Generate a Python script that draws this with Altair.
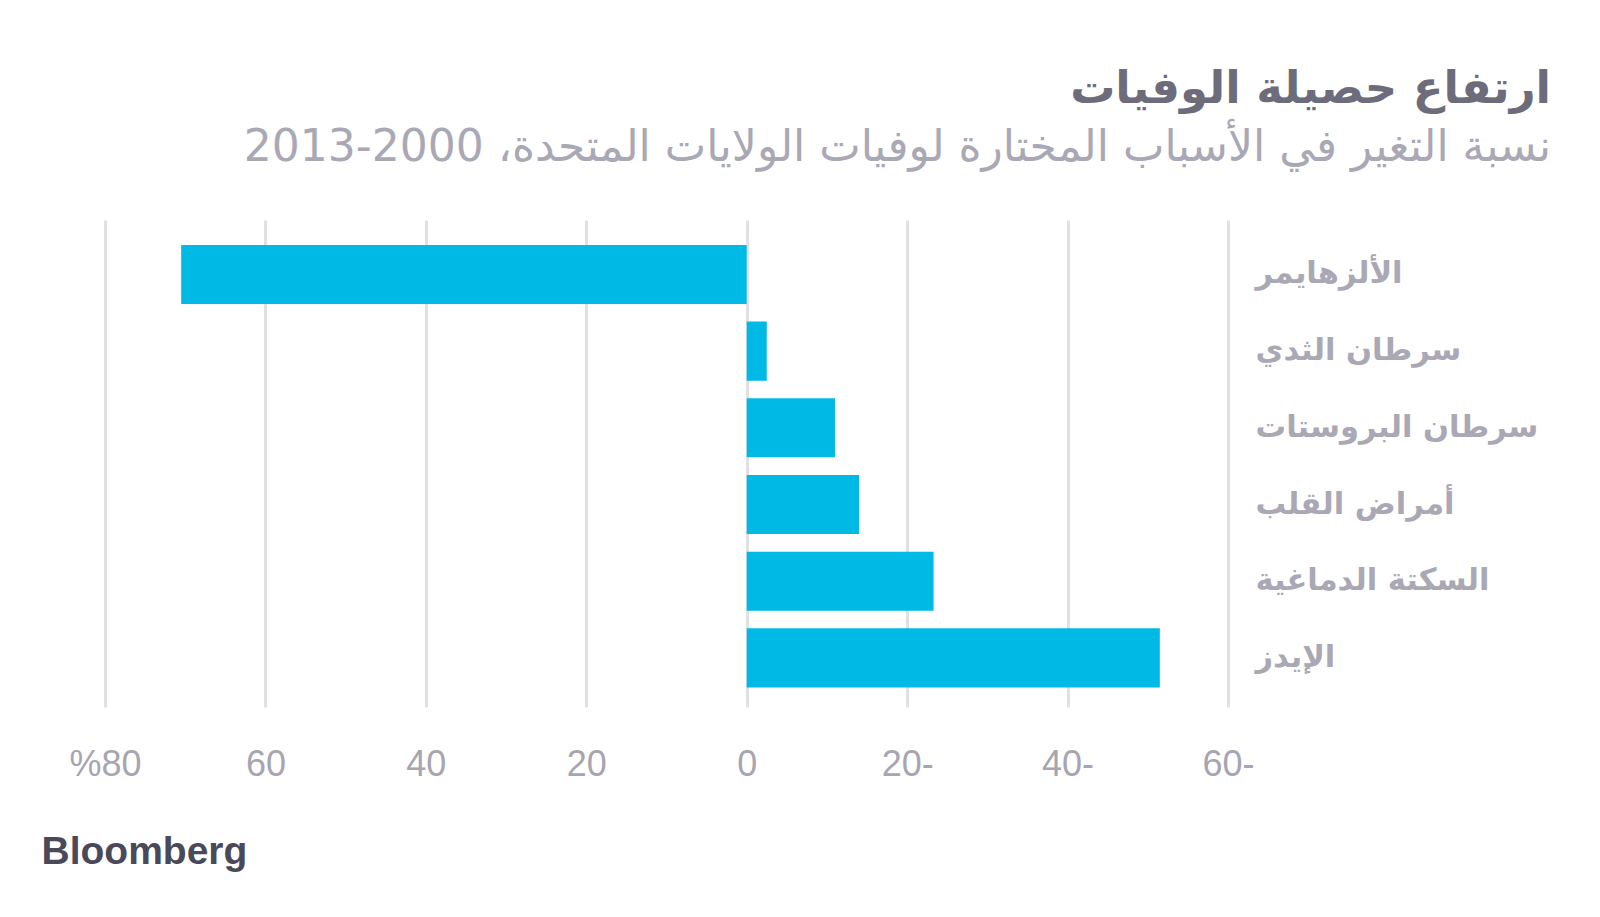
import altair as alt
import pandas as pd

causes = ["الألزهايمر", "سرطان الثدي", "سرطان البروستات", "أمراض القلب", "السكتة الدماغية", "الإيدز"]
changes = [70.5, -2.5, -11, -14, -23.3, -51.5]
tick_values = [80, 60, 40, 20, 0, -20, -40, -60]
tick_labels = ["%80", "60", "40", "20", "0", "20-", "40-", "60-"]

title_text = "ارتفاع حصيلة الوفيات"
subtitle_text = "نسبة التغير في الأسباب المختارة لوفيات الولايات المتحدة، 2000-2013"
source_text = "Bloomberg"

df = pd.DataFrame({"cause": causes, "change": changes})

label_expr = "".join(f"datum.value == {v} ? '{l}' : " for v, l in zip(tick_values, tick_labels)) + "''"

chart = alt.Chart(df).mark_bar(color="#00b9e4").encode(
    x=alt.X(
        "change:Q",
        scale=alt.Scale(domain=[-60, 80], reverse=True, nice=False, zero=True),
        axis=alt.Axis(
            values=tick_values, labelExpr=label_expr, grid=True, gridColor="#e1e1e5", gridWidth=3,
            domain=False, ticks=False, labelFont="Liberation Sans", labelFontSize=36,
            labelColor="#a6a5b1", labelPadding=40, labelFlush=False,
            title=source_text, titleFont="Liberation Sans", titleFontSize=39, titleFontWeight="bold",
            titleColor="#4a4959", titleAnchor="start", titleAlign="left", titleX=-64, titleY=156,
            titleBaseline="alphabetic",
        ),
    ),
    y=alt.Y(
        "cause:N", sort=causes,
        scale=alt.Scale(paddingInner=0.23, paddingOuter=0.29, align=0.56),
        axis=alt.Axis(
            orient="right", title=None, domain=False, ticks=False, labelFont="DejaVu Sans",
            labelFontWeight="bold", labelFontSize=30.5, labelColor="#a9a8b4", labelAlign="left",
            labelPadding=27, labelLimit=0,
        ),
    ),
).properties(
    width=1123,
    height=487,
    title=alt.TitleParams(
        text=title_text, subtitle=subtitle_text, anchor="end", frame="group", align="right", dx=323,
        font="DejaVu Sans", fontSize=45, fontWeight="bold", color="#6d6c7a",
        subtitleFont="DejaVu Sans", subtitleFontSize=44, subtitleColor="#a9a8b4", subtitlePadding=14,
        offset=50,
    ),
    padding={"left": 97, "top": 212, "right": 360, "bottom": 190},
    autosize="none",
).configure_view(stroke=None)

chart.save("out.html", embed_options={"renderer": "svg", "actions": False})
